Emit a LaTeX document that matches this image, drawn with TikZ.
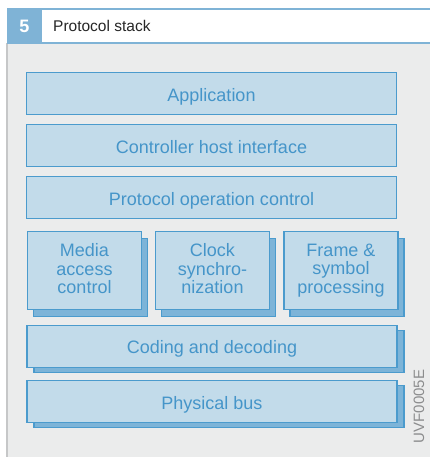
\documentclass[tikz,border=0pt]{standalone}
\usepackage{fontspec}
\setmainfont{Liberation Sans}
\usetikzlibrary{shadows}
\definecolor{hdrblue}{HTML}{7FB3D6}
\definecolor{bggray}{HTML}{EBECEC}
\definecolor{edgegray}{HTML}{C6C7C8}
\definecolor{boxfill}{HTML}{C2DBEA}
\definecolor{boxdraw}{HTML}{4B9BCD}
\definecolor{shadowfill}{HTML}{7DB4D8}
\definecolor{txtblue}{HTML}{4595C9}
\definecolor{codegray}{HTML}{8C8D8E}
\begin{document}
\begin{tikzpicture}[x=1pt,y=-1pt,
  layer/.style={draw=boxdraw, fill=boxfill, line width=1.2pt, text=txtblue,
    font=\fontsize{18}{18.8}\selectfont, inner sep=0pt, align=center,
    execute at begin node={\lineskiplimit=-20pt}},
  bigbox/.style={layer, minimum width=370pt, minimum height=42pt,
    text height=17pt, text depth=2pt},
  smallbox/.style={layer, minimum width=114pt, minimum height=78pt},
  bigshadow/.style={copy shadow={shadow xshift=7pt, shadow yshift=-5pt, fill=shadowfill, draw=boxdraw}},
  smallshadow/.style={copy shadow={shadow xshift=6pt, shadow yshift=-7pt, fill=shadowfill, draw=boxdraw}},
  hdrline/.style={draw=hdrblue, line width=2pt}
]
\useasboundingbox (0,0) rectangle (430,457);
\fill[white] (0,0) rectangle (430,457);
\fill[bggray] (8,43) rectangle (430,457);
\fill[edgegray] (6,43) rectangle (8,457);
% header
\fill[hdrblue] (7,8) rectangle (42,43.7);
\coordinate (hl1) at (42,8.7);
\coordinate (hr1) at (430,8.7);
\coordinate (hl2) at (42,42.7);
\coordinate (hr2) at (430,42.7);
\draw[hdrline] (hl1) -- (hr1);
\draw[hdrline] (hl2) -- (hr2);
\node[text=white, font=\fontsize{18}{18}\selectfont\bfseries] (num) at (24.5,26) {5};
\node[anchor=west, inner sep=0pt, text=black!85, font=\fontsize{15.5}{16}\selectfont] (title) at (53,26) {Protocol stack};
% layers
\node[bigbox] (app) at (211.5,93.8) {Application};
\node[bigbox] (chi) at (211.5,145.8) {Controller host interface};
\node[bigbox] (poc) at (211.5,197.8) {Protocol operation control};
\node[smallbox, smallshadow] (mac) at (84.5,270.5) {Media\\access\\control\vphantom{g}};
\node[smallbox, smallshadow] (clk) at (212.5,270.5) {Clock\\synchro-\\nization\vphantom{g}};
\node[smallbox, smallshadow] (fsp) at (341,270.5) {Frame \&\\symbol\\processing};
\node[bigbox, bigshadow] (cod) at (212,346.2) {Coding and decoding};
\node[bigbox, bigshadow] (phy) at (212,401.7) {Physical bus};
\node[rotate=90, text=codegray, inner sep=0pt, font=\fontsize{15}{15}\selectfont] (code) at (419,406.5) {UVF0005E};
\end{tikzpicture}
\end{document}
